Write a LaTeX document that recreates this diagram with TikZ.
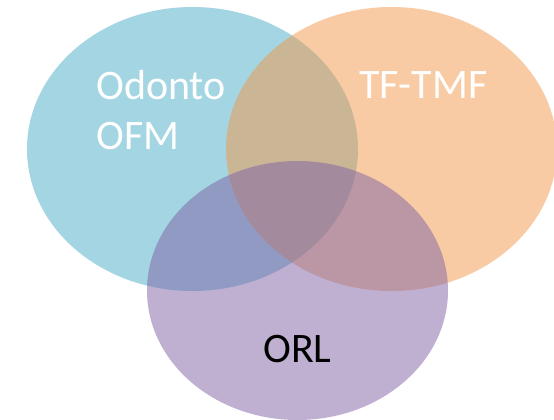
\documentclass[tikz,border=0pt]{standalone}
\usepackage{fontspec}
\setmainfont{Carlito}
\usetikzlibrary{shapes.geometric}

\definecolor{odontoblue}{RGB}{73,171,197}
\definecolor{tforange}{RGB}{241,151,73}
\definecolor{orlpurple}{RGB}{127,97,165}

\begin{document}
\begin{tikzpicture}[x=1pt, y=-1pt,
	circ/.style={ellipse, draw=none, fill opacity=.5, inner sep=0pt},
	lbl/.style={inner sep=0pt, font=\fontsize{42}{50}\selectfont}]
	\useasboundingbox (0,0) rectangle (554,420);
	
	% the three sets
	\node[circ, fill=odontoblue, minimum width=331pt, minimum height=284pt] (odonto) at (192.5,149) {};
	\node[circ, fill=tforange, minimum width=331pt, minimum height=284pt] (tf) at (391.5,149) {};
	\node[circ, fill=orlpurple, minimum width=301pt, minimum height=259pt] (orl) at (297.5,290.5) {};
	
	% names
	\node[lbl, text=white, align=left, anchor=base west] (odontotxt) at (96,149) {Odonto\\OFM};
	\node[lbl, text=white, anchor=base west] (tftxt) at (359,99) {TF-TMF};
	\node[lbl, text=black, anchor=base west] (orltxt) at (263,362) {ORL};
\end{tikzpicture}
\end{document}
